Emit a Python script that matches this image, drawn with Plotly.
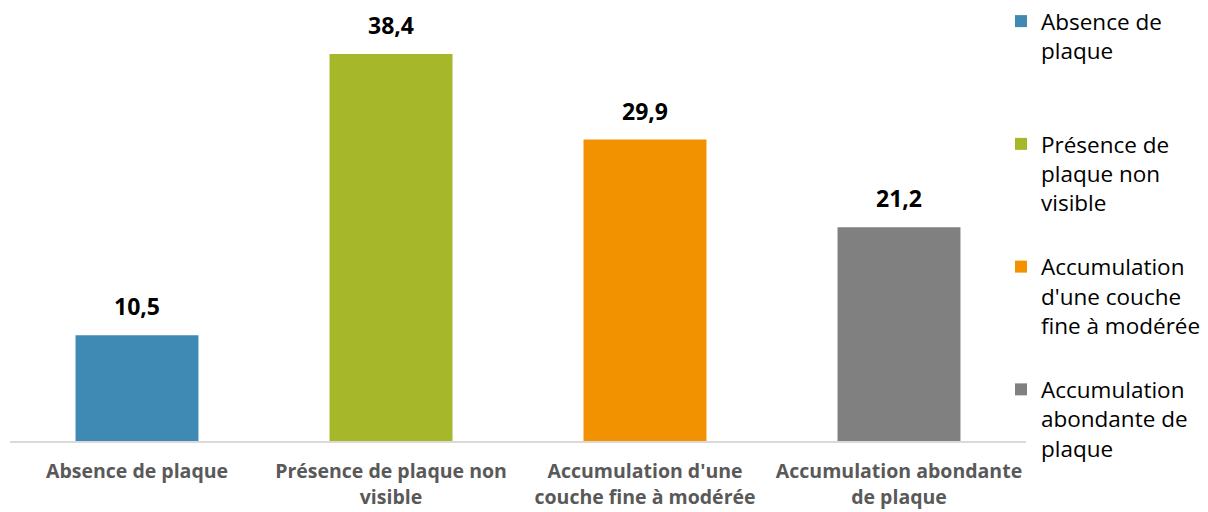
import plotly.graph_objects as go

categories = [
    "Absence de plaque",
    "Présence de plaque non<br>visible",
    "Accumulation d'une<br>couche fine à modérée",
    "Accumulation abondante<br>de plaque",
]
legend_names = [
    "Absence de<br>plaque<br> ",
    "Présence de<br>plaque non<br>visible",
    "Accumulation<br>d'une couche<br>fine à modérée",
    "Accumulation<br>abondante de<br>plaque",
]
values = [10.5, 38.4, 29.9, 21.2]
colors = ["#3E8AB4", "#A6B82A", "#F39200", "#808080"]

fig = go.Figure()
for i, (cat, name, val, col) in enumerate(zip(categories, legend_names, values, colors)):
    fig.add_trace(go.Bar(
        x=[cat], y=[val], name=name,
        marker=dict(color=col, line=dict(width=0)),
        width=0.484,
        legendgroup=f"g{i}",
    ))
    # value label above each bar
    fig.add_annotation(
        x=cat, y=val, text=f"<b>{val:.1f}</b>".replace(".", ","),
        showarrow=False, yanchor="bottom", yshift=11,
        font=dict(family="Open Sans", size=23, color="#000000"),
    )

fig.update_layout(
    width=1208, height=512,
    margin=dict(l=10, r=182, t=0, b=71, autoexpand=False),
    paper_bgcolor="white", plot_bgcolor="white",
    barmode="overlay",
    showlegend=True,
    legend=dict(
        xref="container", yref="container",
        x=1001 / 1208, xanchor="left", y=1.0, yanchor="top",
        bgcolor="rgba(0,0,0,0)",
        font=dict(family="Open Sans", size=22.5, color="#000000"),
        valign="top", tracegroupgap=32,
        itemwidth=30, maxheight=600,
    ),
    xaxis=dict(
        categoryorder="array", categoryarray=categories,
        showline=True, linecolor="#D9D9D9", linewidth=2,
        showgrid=False, ticks="outside", ticklen=0,
        ticklabelstandoff=12,
        tickfont=dict(family="Open Sans", size=19.5, color="#595959", weight="bold"),
    ),
    yaxis=dict(range=[0, 43.75], visible=False, showgrid=False),
)

fig.write_html("out.html")
